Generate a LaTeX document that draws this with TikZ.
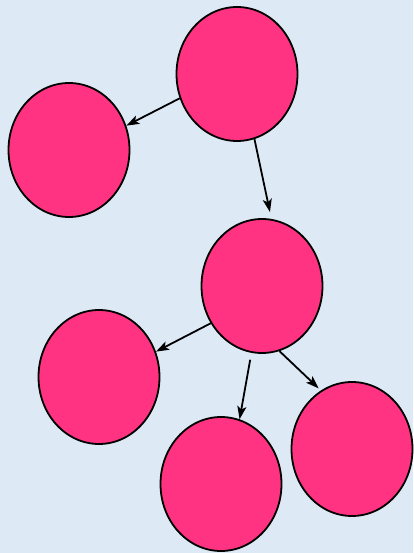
\documentclass[tikz,border=0pt]{standalone}
\usetikzlibrary{shapes.geometric,arrows.meta}
\definecolor{bgblue}{RGB}{221,234,246}
\definecolor{nodepink}{RGB}{255,51,130}
\begin{document}
\begin{tikzpicture}[x=1pt,y=-1pt,
  blob/.style={ellipse,draw=black,fill=nodepink,line width=1.8pt,
    minimum width=121pt,minimum height=134pt,inner sep=0pt},
  link/.style={line width=1.8pt,-{Stealth[length=13pt,width=9pt,inset=3pt]}}]
\fill[bgblue] (0,0) rectangle (413,553);
\useasboundingbox (0,0) rectangle (413,553);
\node[blob] (A) at (237,74) {};
\node[blob] (B) at (69,150) {};
\node[blob] (C) at (262,286) {};
\node[blob] (D) at (99,377) {};
\node[blob] (E) at (221,484) {};
\node[blob] (F) at (352,449) {};
\draw[link] (A.203) -- (B.23);
\draw[link,shorten >=7pt] (A.285) -- (C.82);
\draw[link] (C.216) -- (D.24);
\draw[link,shorten <=7pt] (C.261) -- (E.74);
\draw[link,shorten >=3pt] (C.285) -- (F.118);
\end{tikzpicture}
\end{document}
